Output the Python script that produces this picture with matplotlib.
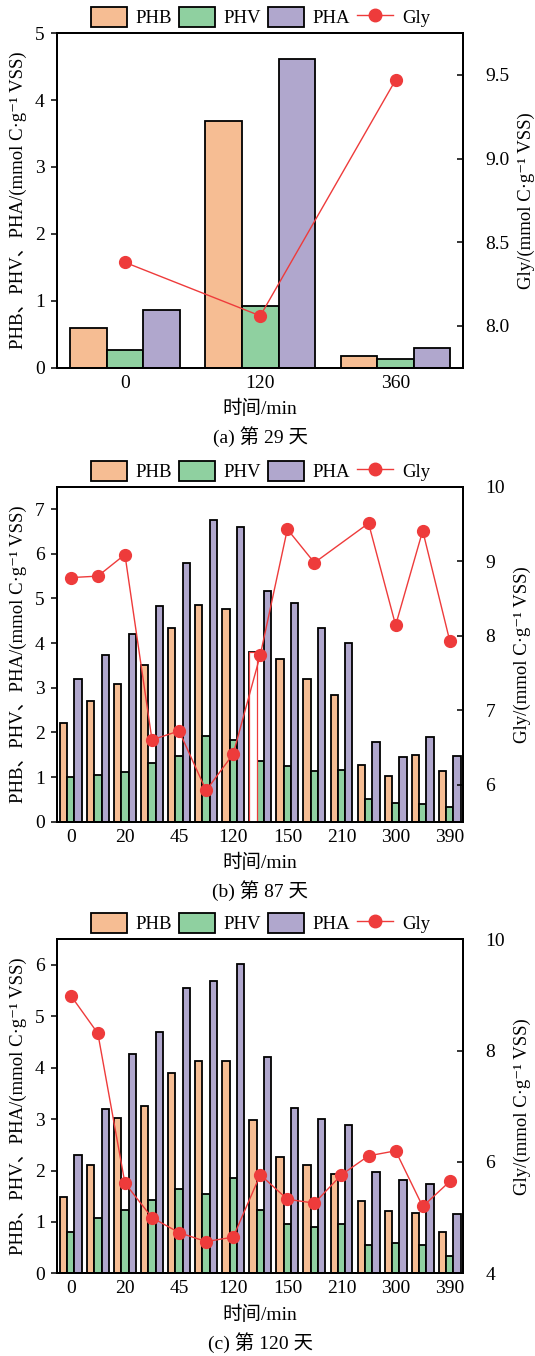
import numpy as np
import matplotlib
matplotlib.use("Agg")
import matplotlib.pyplot as plt
from matplotlib.patches import Patch
from matplotlib.lines import Line2D

plt.rcParams['font.family'] = ['Liberation Serif', 'Noto Sans CJK SC', 'DejaVu Sans']
plt.rcParams['font.size'] = 14
plt.rcParams['axes.linewidth'] = 1.4

# ---- data ----
# (a) day 29
a_labels = ['0', '120', '360']
a_phb = [0.60, 3.69, 0.175]
a_phv = [0.26, 0.93, 0.13]
a_pha = [0.86, 4.61, 0.30]
a_gly = [8.38, 8.06, 9.47]

# (b) day 87, 15 sampling points, only every other one labelled
b_labels = ['0', '', '20', '', '45', '', '120', '', '150', '', '210', '', '300', '', '390']
b_phb = [2.20, 2.70, 3.09, 3.52, 4.33, 4.85, 4.77, 3.80, 3.64, 3.19, 2.84, 1.26, 1.03, 1.50, 1.14]
b_phv = [1.01, 1.04, 1.12, 1.32, 1.47, 1.92, 1.84, 1.36, 1.25, 1.14, 1.15, 0.52, 0.42, 0.40, 0.34]
b_pha = [3.19, 3.74, 4.21, 4.84, 5.80, 6.76, 6.59, 5.16, 4.89, 4.33, 4.00, 1.78, 1.45, 1.89, 1.47]
b_gly = [8.78, 8.80, 9.09, 6.60, 6.72, 5.92, 6.41, 7.74, 9.43, 8.98, np.nan, 9.51, 8.14, 9.41, 7.93]

# (c) day 120
c_labels = ['0', '', '20', '', '45', '', '120', '', '150', '', '210', '', '300', '', '390']
c_phb = [1.48, 2.11, 3.02, 3.26, 3.90, 4.13, 4.14, 2.98, 2.27, 2.10, 1.94, 1.41, 1.21, 1.17, 0.81]
c_phv = [0.81, 1.08, 1.24, 1.43, 1.65, 1.55, 1.86, 1.23, 0.95, 0.91, 0.95, 0.55, 0.59, 0.55, 0.34]
c_pha = [2.30, 3.19, 4.27, 4.69, 5.55, 5.68, 6.01, 4.21, 3.22, 3.01, 2.89, 1.97, 1.82, 1.74, 1.15]
c_gly = [8.99, 8.31, 5.62, 5.00, 4.73, 4.57, 4.65, 5.77, 5.33, 5.26, 5.77, 6.11, 6.20, 5.20, 5.65]

col_phb = '#F6BD93'
col_phv = '#8FD0A0'
col_pha = '#B0A7CD'
col_gly = '#EE3B3B'

ylab_left = 'PHB、PHV、PHA/(mmol C·g⁻¹ VSS)'
ylab_right = 'Gly/(mmol C·g⁻¹ VSS)'


def panel(fig, rect, labels, phb, phv, pha, gly, ylim, yticks, ylim2, yticks2, yfmt2, caption,
          odd_bar=None):
    ax = fig.add_axes(rect)
    x = np.arange(len(labels))
    w = 0.27
    ax.bar(x - w, phb, w, color=col_phb, edgecolor='black', linewidth=1.3, zorder=2)
    ax.bar(x, phv, w, color=col_phv, edgecolor='black', linewidth=1.3, zorder=2)
    ax.bar(x + w, pha, w, color=col_pha, edgecolor='black', linewidth=1.3, zorder=2)
    if odd_bar is not None:
        # one PHB bar in (b) is drawn unfilled with a red outline
        ax.bar(x[odd_bar] - w, phb[odd_bar], w, color='white', edgecolor=col_gly,
               linewidth=0.9, zorder=3)
    ax.set_xlim(-0.5, len(labels) - 0.5)
    ax.set_ylim(*ylim)
    ax.set_yticks(yticks)
    ax.set_xticks(x)
    ax.set_xticklabels(labels)
    ax.tick_params(axis='x', direction='in', length=4, width=1.1, pad=5)
    ax.tick_params(axis='y', direction='out', length=4, width=1.1, pad=5)
    ax.set_ylabel(ylab_left, labelpad=6, fontsize=13.5)
    ax.set_xlabel('时间/min', labelpad=6)

    ax2 = ax.twinx()
    g = np.array(gly, dtype=float)
    ok = ~np.isnan(g)
    ax2.plot(x[ok], g[ok], color=col_gly, linewidth=1.0, marker='o', markersize=8.5,
             markerfacecolor=col_gly, markeredgecolor=col_gly, zorder=5)
    ax2.set_ylim(*ylim2)
    ax2.set_yticks(yticks2)
    ax2.set_yticklabels([yfmt2.format(v) for v in yticks2])
    ax2.tick_params(axis='y', direction='in', length=4, width=1.1, pad=16)
    ax2.set_ylabel(ylab_right, labelpad=6, fontsize=13.5)

    handles = [Patch(facecolor=col_phb, edgecolor='black', linewidth=1.3),
               Patch(facecolor=col_phv, edgecolor='black', linewidth=1.3),
               Patch(facecolor=col_pha, edgecolor='black', linewidth=1.3),
               Line2D([0], [0], color=col_gly, linewidth=1.0, marker='o', markersize=9)]
    ax.legend(handles, ['PHB', 'PHV', 'PHA', 'Gly'], loc='lower center',
              bbox_to_anchor=(0.5, 0.995), ncol=4, frameon=False, handlelength=1.95,
              handleheight=1.25, columnspacing=0.35, handletextpad=0.45, borderaxespad=0.0,
              fontsize=13.5)
    x0, y0, wd, ht = rect
    fig.text(x0 + wd / 2, y0 - 0.051, caption, ha='center', va='center', fontsize=14)
    return ax, ax2


fig = plt.figure(figsize=(5.35, 13.56), dpi=100)
L, W = 0.107, 0.759

panel(fig, [L, 0.7288, W, 0.2468], a_labels, a_phb, a_phv, a_pha, a_gly,
      (0, 5), range(0, 6), (7.75, 9.75), [8.0, 8.5, 9.0, 9.5], '{:.1f}', '(a) 第 29 天')
panel(fig, [L, 0.394, W, 0.247], b_labels, b_phb, b_phv, b_pha, b_gly,
      (0, 7.5), range(0, 8), (5.5, 10), [6, 7, 8, 9, 10], '{:.0f}', '(b) 第 87 天', odd_bar=7)
panel(fig, [L, 0.061, W, 0.2463], c_labels, c_phb, c_phv, c_pha, c_gly,
      (0, 6.5), range(0, 7), (4, 10), [4, 6, 8, 10], '{:.0f}', '(c) 第 120 天')

fig.savefig('out.png', dpi=100)
